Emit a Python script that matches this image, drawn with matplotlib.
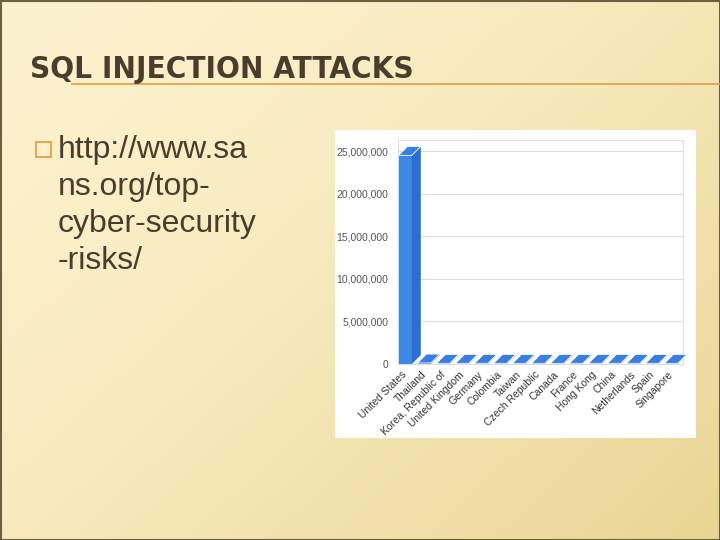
import numpy as np
import matplotlib.pyplot as plt
from matplotlib.patches import Rectangle, Polygon
from matplotlib.ticker import FuncFormatter

# Data
COUNTRIES = ['United States', 'Thailand', 'Korea, Republic of', 'United Kingdom', 'Germany',
             'Colombia', 'Taiwan', 'Czech Republic', 'Canada', 'France', 'Hong Kong',
             'China', 'Netherlands', 'Spain', 'Singapore']
ATTACKS = [24500000, 120000, 80000, 80000, 80000, 80000, 80000, 80000,
           80000, 80000, 80000, 80000, 80000, 80000, 80000]
Y_TICKS = [0, 5000000, 10000000, 15000000, 20000000, 25000000]
BULLET_LINES = ['http://www.sa', 'ns.org/top-', 'cyber-security', '-risks/']

W, H = 720, 540
fig = plt.figure(figsize=(7.2, 5.4), dpi=100)

# slide background (diagonal cream gradient)
bg = fig.add_axes([0, 0, 1, 1])
yy, xx = np.mgrid[0:1:200j, 0:1:200j]
t = (xx * 0.55 + yy * 0.45)
c0 = np.array([253, 242, 206]) / 255
c1 = np.array([233, 212, 146]) / 255
img = c0 + (c1 - c0) * (t[..., None] ** 1.6)
bg.imshow(img, extent=[0, W, H, 0], origin='upper', aspect='auto')
bg.set_xlim(0, W)
bg.set_ylim(H, 0)
bg.axis('off')
bg.add_patch(Rectangle((0.5, 0.5), W - 1, H - 1, fill=False, ec='#6b6040', lw=1.5))

# title and underline
bg.plot([72, 720], [83.5, 83.5], color='#e0a040', lw=1.2)
bg.text(30, 69, 'SQL INJECTION ATTACKS', fontsize=22.5, color='#4a3d2d', weight='bold',
        family='DejaVu Sans', fontstretch='condensed', va='center', ha='left')

# bullet text
bg.add_patch(Rectangle((36, 142), 15, 15, fill=False, ec='#e09a3a', lw=1.2))
for i, line in enumerate(BULLET_LINES):
    bg.text(58, 150 + i * 37, line, fontsize=23, color='#4a3d2d',
            family='Liberation Sans', va='center', ha='left')

# chart picture background
bg.add_patch(Rectangle((335, 130), 361, 308, fc='white', ec='none'))

# chart
ax = fig.add_axes([398 / W, 1 - 364 / H, (683 - 398) / W, (364 - 140) / H])
ax.set_xlim(-0.5, len(COUNTRIES) - 0.5)
ax.set_ylim(0, 26300000)
dx, dy = 0.47, 1050000
for i, v in enumerate(ATTACKS):
    x0 = i - 0.5 + 0.03
    w = 0.7
    ax.bar(x0, v, width=w, align='edge', color='#3d87e8', zorder=3)
    ax.add_patch(Polygon([(x0 + w, 0), (x0 + w + dx, dy), (x0 + w + dx, v + dy), (x0 + w, v)],
                         closed=True, fc='#2b6fd0', ec='none', zorder=3))
    ax.add_patch(Polygon([(x0, v), (x0 + w, v), (x0 + w + dx, v + dy), (x0 + dx, v + dy)],
                         closed=True, fc='#3a7fdf', ec='white', lw=0.6, zorder=4,
                         clip_on=False))
ax.set_yticks(Y_TICKS)
ax.yaxis.set_major_formatter(FuncFormatter(lambda v, p: f'{int(v):,}'))
# labels sit a little left of the bar centres, as in the source image
ax.set_xticks([i - 0.3 for i in range(len(COUNTRIES))])
ax.set_xticklabels(COUNTRIES, rotation=45, ha='right', rotation_mode='anchor',
                   fontsize=7.5, color='#333333', family='Liberation Sans')
for lbl in ax.get_yticklabels():
    lbl.set_fontsize(7.5)
    lbl.set_color('#555555')
    lbl.set_family('Liberation Sans')
ax.tick_params(axis='y', length=0, pad=7)
ax.tick_params(axis='x', length=0, pad=4)
ax.grid(axis='y', color='#dddddd', lw=0.8, zorder=0)
for s in ax.spines.values():
    s.set_color('#dddddd')
ax.set_facecolor('white')

fig.savefig('out.png', dpi=100)
